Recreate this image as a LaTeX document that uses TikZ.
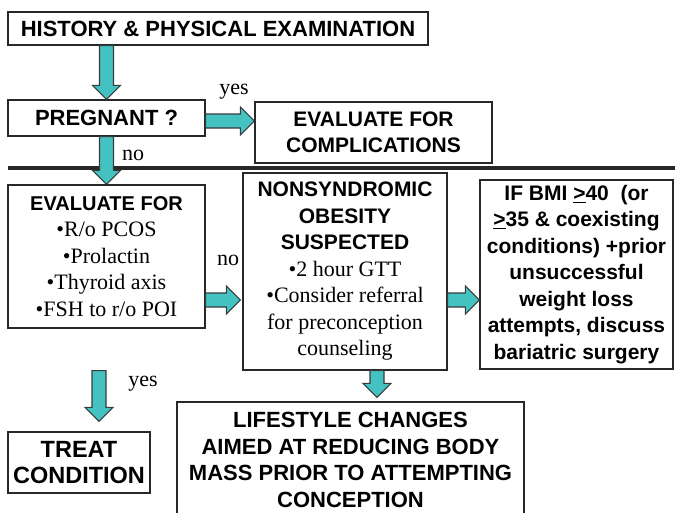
\documentclass[tikz,border=0pt]{standalone}
\usepackage{fontspec}
\setmainfont{Liberation Serif}
\setsansfont{Liberation Sans}
\usetikzlibrary{calc, positioning}
\definecolor{arrowteal}{RGB}{68, 194, 194}
\definecolor{arrowedge}{RGB}{55, 60, 60}
\definecolor{boxedge}{RGB}{40, 40, 40}
\newcommand{\bul}[1]{{\rmfamily\mdseries\fontsize{22}{26.5}\selectfont\textbullet#1}}
\newcommand{\plain}[1]{{\rmfamily\mdseries\fontsize{22}{26.5}\selectfont #1}}
\newcommand{\hd}[1]{\sffamily\bfseries\fontsize{#1}{26.5}\selectfont}
\tikzset{
    fatgapa/.store in=\fatgapa, fatgapb/.store in=\fatgapb, fatgapa=0pt, fatgapb=0pt,
    flowbox/.style={rectangle, draw=boxedge, fill=white, line width=1.2pt, align=center, inner sep=1pt, font=\hd{21}},
    lbl/.style={font=\rmfamily\fontsize{22}{26}\selectfont, inner sep=0pt},
    divider/.style={line width=3.5pt, boxedge},
    fat/.style={fill=arrowteal, draw=arrowedge, line width=1.1pt, line join=miter,
        to path={
            ($(\tikztostart)!\fatgapa!(\tikztotarget)$) coordinate (fa-s)
            ($(\tikztotarget)!\fatgapb!(\tikztostart)$) coordinate (fa-t)
            ($(fa-t)!14pt!(fa-s)$) coordinate (fa-h)
            ($(fa-s)!7pt!90:(fa-t)$) -- ($(fa-h)!7pt!90:(fa-t)$) -- ($(fa-h)!14pt!90:(fa-t)$)
            -- (fa-t) -- ($(fa-h)!14pt!-90:(fa-t)$) -- ($(fa-h)!7pt!-90:(fa-t)$)
            -- ($(fa-s)!7pt!-90:(fa-t)$) -- cycle}}
}

\begin{document}
\begin{tikzpicture}[x=1pt, y=-1pt]
    \path[use as bounding box, fill=white] (0,0) rectangle (675,512);

    % Top part
    \node[flowbox, minimum width=420pt, minimum height=33pt, font=\hd{22}] (history) at (218,28.5) {HISTORY \& PHYSICAL EXAMINATION};
    \node[flowbox, minimum width=197pt, minimum height=36pt, font=\hd{22}] (pregnant) at (106.5,118) {PREGNANT ?};
    \node[flowbox, minimum width=237pt, minimum height=61pt] (complic) at (373.5,132.5) {EVALUATE FOR\\COMPLICATIONS};
    \node[lbl] (yestop) at (234,92) {yes};
    \node[lbl] (notop) at (133,155) {no};

    \draw[divider] (8,168) -- (675,168);

    % Work-up
    \node[flowbox, minimum width=197pt, minimum height=143pt, font=\hd{20}] (evalfor) at (106.5,256.5) {EVALUATE FOR\\\bul{R/o PCOS}\\\bul{Prolactin}\\\bul{Thyroid axis}\\\bul{FSH to r/o POI}};
    \node[flowbox, minimum width=204pt, minimum height=197pt] (nonsyn) at (345,271.5) {NONSYNDROMIC\\OBESITY\\SUSPECTED\\\bul{2 hour GTT}\\\bul{Consider referral}\\\plain{for preconception}\\\plain{counseling}};
    \node[flowbox, minimum width=193pt, minimum height=189pt] (bmi) at (576.5,274.5) {IF BMI \underline{>}40\ \ (or\\\underline{>}35 \& coexisting\\conditions) +prior\\unsuccessful\\weight loss\\attempts, discuss\\bariatric surgery};
    \node[lbl] (nomid) at (228,260) {no};

    % Outcomes
    \node[flowbox, minimum width=142pt, minimum height=61pt, font=\hd{23.5}] (treat) at (79,462.5) {TREAT\\CONDITION};
    \node[flowbox, minimum width=347pt, minimum height=116pt, font=\hd{22}] (lifestyle) at (350.5,460) {LIFESTYLE CHANGES\\AIMED AT REDUCING BODY\\MASS PRIOR TO ATTEMPTING\\CONCEPTION};
    \node[lbl] (yesbot) at (143,384) {yes};

    % Arrows
    \coordinate (yesrow) at (0,121);
    \coordinate (midrow) at (0,300);
    \coordinate (downx) at (377,0);
    \coordinate (leftx) at (99,0);
    \draw[fat] (history.south -| pregnant) to (pregnant.north);
    \draw[fat] (pregnant.east |- yesrow) to (complic.west |- yesrow);
    \draw[fat] (pregnant.south) to (evalfor.north);
    \draw[fat, fatgapb=2pt] (evalfor.east |- midrow) to (nonsyn.west |- midrow);
    \draw[fat] (nonsyn.east |- midrow) to (bmi.west |- midrow);
    \draw[fat, fatgapb=4pt] (nonsyn.south -| downx) to (lifestyle.north -| downx);
    \draw[fat, fatgapa=42pt, fatgapb=10pt] (evalfor.south -| leftx) to (treat.north -| leftx);
\end{tikzpicture}
\end{document}
